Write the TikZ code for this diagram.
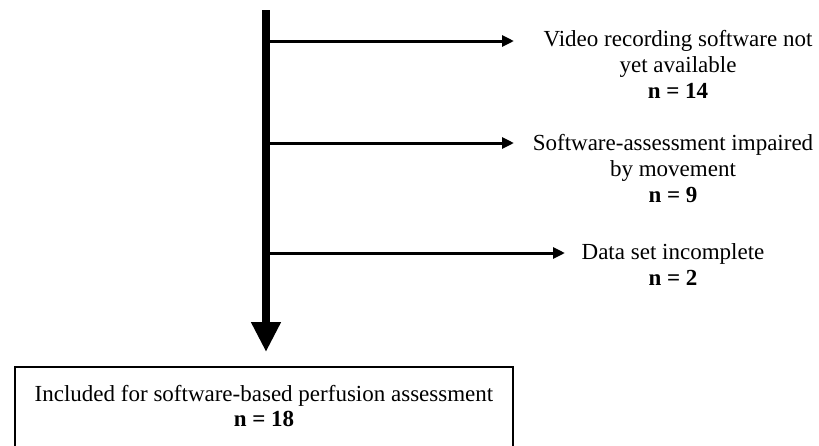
\documentclass[tikz,border=0pt]{standalone}
\usepackage{fontspec}
\setmainfont{Liberation Serif}
\usetikzlibrary{arrows.meta}
\tikzset{
  trunk/.style={line width=8pt, -{Triangle[width=28pt,length=30pt]}},
  branch/.style={line width=3pt, -{Triangle[width=11pt,length=12pt]}},
  lbl/.style={align=center, font=\fontsize{23}{26}\selectfont, inner sep=0pt},
  boxnode/.style={draw, line width=2pt, align=center, font=\fontsize{23}{25.5}\selectfont,
    minimum width=498pt, anchor=north, inner ysep=18pt, text depth=60pt}
}
\begin{document}
\begin{tikzpicture}[x=1pt,y=-1pt]
\useasboundingbox (0,0) rectangle (819,445);
\fill[white] (0,0) rectangle (819,445);
\clip (0,0) rectangle (819,445);
\coordinate (top) at (266,10);
\node[boxnode] (box) at (264,366) {Included for software-based perfusion assessment\\\textbf{n = 18}};
\coordinate (b1) at (266,41);
\coordinate (b2) at (266,143);
\coordinate (b3) at (266,253);
\coordinate (e1) at (514,41);
\coordinate (e2) at (514,143);
\coordinate (e3) at (565,253);
\node[lbl, anchor=north] (t1) at (678,30) {Video recording software not\\yet available\\\textbf{n = 14}};
\node[lbl, anchor=north] (t2) at (673,134) {Software-assessment impaired\\by movement\\\textbf{n = 9}};
\node[lbl, anchor=north] (t3) at (673,243) {Data set incomplete\\\textbf{n = 2}};
\draw[trunk] (top) -- (box.north -| top) [shorten >=14pt];
\draw[branch] (b1) -- (e1);
\draw[branch] (b2) -- (e2);
\draw[branch] (b3) -- (e3);
\end{tikzpicture}
\end{document}
